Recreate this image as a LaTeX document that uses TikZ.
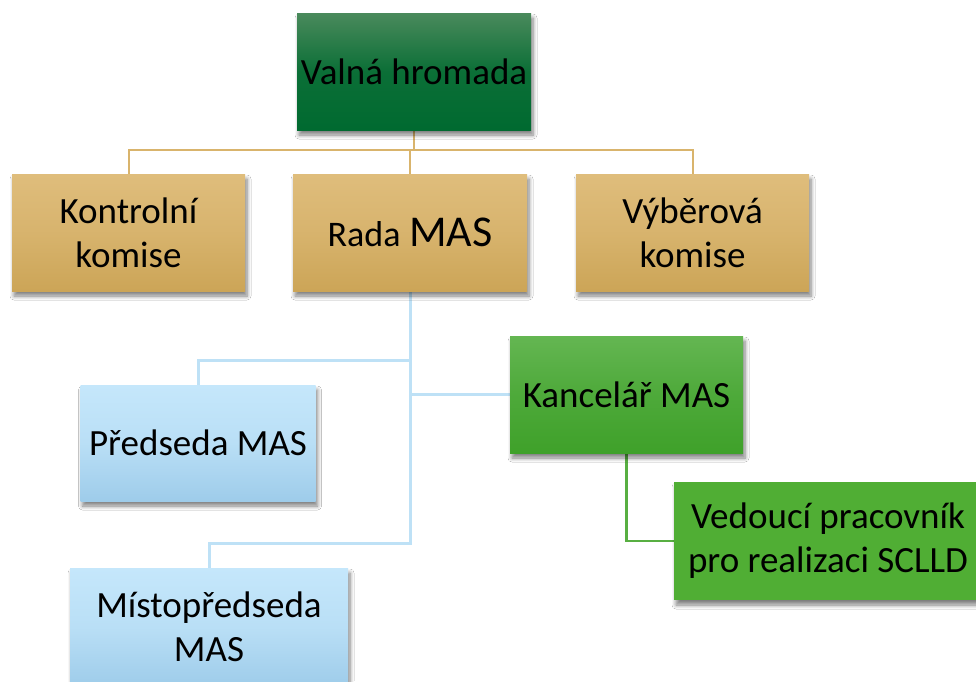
\documentclass[tikz,border=0pt]{standalone}
\usepackage{fontspec}
\setmainfont{Carlito}
\usetikzlibrary{shadows.blur,backgrounds}
\definecolor{vgtop}{HTML}{4A8A5C}
\definecolor{vgbot}{HTML}{006A30}
\definecolor{gdtop}{HTML}{DFBD7C}
\definecolor{gdbot}{HTML}{CCA557}
\definecolor{bltop}{HTML}{C5E7FB}
\definecolor{blbot}{HTML}{9ECCEA}
\definecolor{grtop}{HTML}{64B652}
\definecolor{grbot}{HTML}{3FA12A}
\definecolor{grflat}{HTML}{50AE34}
\definecolor{goldline}{HTML}{D9B46C}
\definecolor{blueline}{HTML}{BEE1F6}
\definecolor{greenline}{HTML}{58AF42}
\tikzset{
  orgbox/.style={rectangle, inner sep=0pt, align=center, text=black,
    font=\fontsize{37}{44}\selectfont,
    blur shadow={shadow xshift=2pt, shadow yshift=-5pt, shadow blur steps=6, shadow opacity=50, shadow blur radius=4pt}},
  darkbox/.style={orgbox, top color=vgtop, bottom color=vgbot, middle color=vgbot!85!vgtop},
  goldbox/.style={orgbox, top color=gdtop, bottom color=gdbot, middle color=gdtop!60!gdbot},
  bluebox/.style={orgbox, top color=bltop, bottom color=blbot, middle color=bltop!70!blbot},
  greenbox/.style={orgbox, top color=grtop, bottom color=grbot, middle color=grtop!40!grbot},
  flatgreen/.style={orgbox, fill=grflat},
  gconn/.style={draw=goldline, line width=2pt},
  bconn/.style={draw=blueline, line width=3pt},
  grconn/.style={draw=greenline, line width=2.5pt},
}
\begin{document}
\begin{tikzpicture}[x=1pt,y=-1pt]
\useasboundingbox (0,0) rectangle (976,681);
\clip (0,0) rectangle (976,681);
\node[darkbox, minimum width=234pt, minimum height=117pt] (valna) at (414,71.5) {Valná hromada};
\node[goldbox, minimum width=233pt, minimum height=117pt] (kontrol) at (128.5,232.5) {Kontrolní\\komise};
\node[goldbox, minimum width=234pt, minimum height=117pt] (rada) at (410,232.5) {{\fontsize{36}{43}\selectfont Rada} {\fontsize{44}{52}\selectfont MAS}};
\node[goldbox, minimum width=233pt, minimum height=117pt] (vyber) at (692.5,232.5) {Výběrová\\komise};
\node[bluebox, minimum width=235pt, minimum height=116pt] (preds) at (198,443) {Předseda MAS};
\node[greenbox, minimum width=233pt, minimum height=117pt] (kanc) at (626.5,394.5) {Kancelář MAS};
\node[flatgreen, minimum width=308pt, minimum height=118pt] (ved) at (828,541) {Vedoucí pracovník\\pro realizaci SCLLD};
\node[bluebox, minimum width=278pt, minimum height=118pt] (misto) at (209,627) {Místopředseda\\MAS};
\begin{pgfonlayer}{background}
\fill[white] (0,0) rectangle (976,681);
\draw[gconn] (valna.south) -- ++(0,20);
\draw[gconn] (kontrol.north) -- ++(0,-24) -| (vyber.north);
\draw[gconn] (rada.north) -- ++(0,-24);
\draw[bconn] (rada.south) -- ++(0,252) -| (misto.north);
\draw[bconn] (rada.south) ++(0,69) -| (preds.north);
\draw[bconn] (kanc.west) -- (kanc.west -| rada.south);
\draw[grconn] (kanc.south) |- (ved.west);
\end{pgfonlayer}
\end{tikzpicture}
\end{document}
